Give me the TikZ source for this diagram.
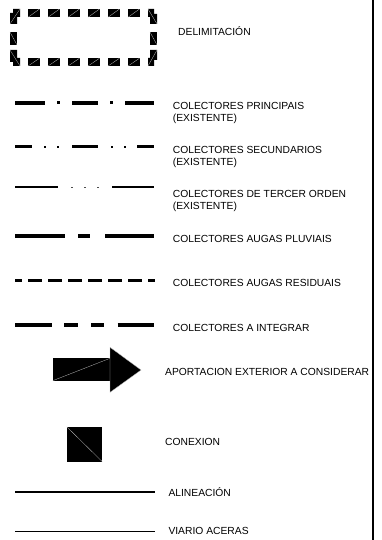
\documentclass[tikz,border=0pt]{standalone}
\usepackage{fontspec}
\setmainfont{Liberation Sans}
\begin{document}
\begin{tikzpicture}[x=1pt,y=-1pt,
  lbl/.style={anchor=base west, inner sep=0pt, font=\fontsize{10.3}{12}\selectfont},
  hatch/.style={draw=gray!35, line width=0.25pt},
  ln/.style={line width=#1, line cap=butt}]
\useasboundingbox (0,0) rectangle (382,540);
% right frame line
\draw[line width=2pt] (373,0) -- (373,540);

% ---- delimitation
\foreach \x in {28,48,...,128}{
  \fill (\x,9) rectangle ++(11.5,8.3);
  \draw[hatch] (\x,17.3) -- ++(11.5,-8.3);
  \fill (\x,58.3) rectangle ++(11.5,7.7);
  \draw[hatch] (\x,66) -- ++(11.5,-7.7);
}
\fill (13,9) -- (20,9) -- (20,17) -- (17,17) -- (17,24) -- (10,24) -- (10,13) -- (13,13) -- cycle;
\draw[hatch] (10,24) -- (20,9);
\fill (10,32) rectangle (17,45);
\draw[hatch] (10,32) -- (17,45);
\fill (10,50) -- (17,50) -- (17,58) -- (20,58) -- (20,66) -- (13,66) -- (13,62) -- (10,62) -- cycle;
\draw[hatch] (10,50) -- (20,66);
\fill (148,9) -- (154,9) -- (154,14) -- (157,14) -- (157,24) -- (150,24) -- (150,17) -- (148,17) -- cycle;
\draw[hatch] (148,9) -- (157,24);
\fill (150,32) rectangle (157,45);
\draw[hatch] (150,32) -- (157,45);
\fill (150,50) -- (157,50) -- (157,60) -- (154,60) -- (154,66) -- (148,66) -- (148,58) -- (150,58) -- cycle;
\draw[hatch] (148,66) -- (157,50);
\node[lbl] (tdel) at (178,35.5) {DELIMITACIÓN};

% ---- colectores principais
\draw[ln=3.7pt] (15,102.7) -- (45,102.7) (72,102.7) -- (98,102.7) (125,102.7) -- (154,102.7);
\fill (56.8,101.2) rectangle ++(3,3);
\fill (110.2,101.2) rectangle ++(3,3);
\node[lbl] (t1) at (172.7,109.8) {COLECTORES PRINCIPAIS};
\node[lbl] (t1b) at (172.7,121.2) {(EXISTENTE)};

% ---- colectores secundarios
\draw[ln=3pt] (15,146.7) -- (32,146.7) (72,146.7) -- (98,146.7) (137,146.7) -- (154,146.7);
\foreach \x in {45,58,112,125} \fill (\x-1,145.7) rectangle ++(2,2);
\node[lbl] (t2) at (172.7,153.8) {COLECTORES SECUNDARIOS};
\node[lbl] (t2b) at (172.7,165.5) {(EXISTENTE)};

% ---- colectores de tercer orden
\draw[ln=1.8pt] (15,187.3) -- (58,187.3) (112,187.3) -- (154,187.3);
\foreach \x in {72,85,98} \fill[black!70] (\x-0.8,186.5) rectangle ++(1.6,1.6);
\node[lbl] (t3) at (172.7,197.8) {COLECTORES DE TERCER ORDEN};
\node[lbl] (t3b) at (172.7,209.5) {(EXISTENTE)};

% ---- augas pluviais
\draw[ln=3.8pt] (15,235.7) -- (65,235.7) (78,235.7) -- (90,235.7) (105,235.7) -- (154,235.7);
\node[lbl] (t4) at (172.7,242.1) {COLECTORES AUGAS PLUVIAIS};

% ---- augas residuais
\draw[ln=2.2pt, dash pattern=on 13.33pt off 6.67pt, dash phase=6.67pt] (15,280.5) -- (155,280.5);
\node[lbl] (t5) at (172.7,286.5) {COLECTORES AUGAS RESIDUAIS};

% ---- a integrar
\draw[ln=3.2pt] (15,325) -- (51.7,325) (64.3,325) -- (78.3,325) (91,325) -- (104.3,325) (117.7,325) -- (154.3,325);
\node[lbl] (t6) at (172.7,331.1) {COLECTORES A INTEGRAR};

% ---- arrow
\fill (52.7,358.3) rectangle (110,380.7);
\draw[hatch] (52.7,380.7) -- (110,358.3);
\filldraw[draw=gray!50, line width=0.3pt] (110,347.3) -- (141,370) -- (110,392.3) -- cycle;
\node[lbl] (t7) at (165,375.5) {APORTACION EXTERIOR A CONSIDERAR};

% ---- conexion
\fill (66.7,426.7) rectangle (102.3,461.7);
\draw[hatch] (66.7,426.7) -- (102.3,461.7);
\node[lbl] (t8) at (165,445.5) {CONEXION};

% ---- alineacion / viario
\draw[ln=2pt] (15,492) -- (155,492);
\node[lbl] (t9) at (168.3,496.1) {ALINEACIÓN};
\draw[ln=1.5pt] (15,531.7) -- (155,531.7);
\node[lbl] (t10) at (168.3,534.8) {VIARIO ACERAS};
\end{tikzpicture}
\end{document}
